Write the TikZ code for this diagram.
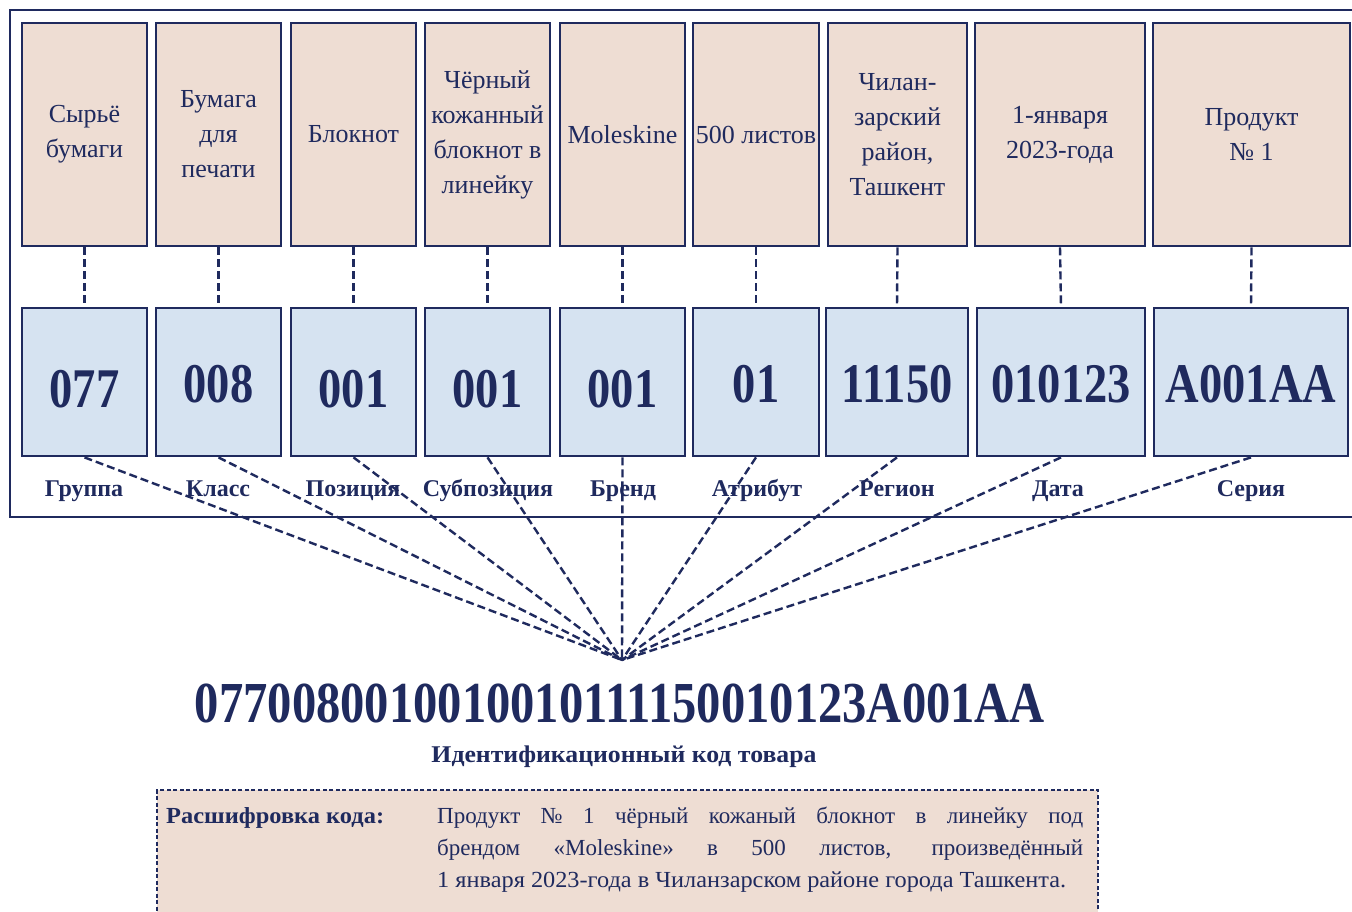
\documentclass[tikz,border=0pt]{standalone}
\usepackage{fontspec}
\setmainfont{Liberation Serif}
\definecolor{navy}{RGB}{31,42,94}
\definecolor{beige}{RGB}{238,221,211}
\definecolor{lightblue}{RGB}{214,227,241}
\newcommand\codetxt[1]{\scalebox{0.83}[1]{\fontsize{56}{56}\selectfont\bfseries #1}}
\begin{document}
\begin{tikzpicture}[x=1pt,y=-1pt,
  topbox/.style={draw=navy, line width=2.8pt, fill=beige, inner sep=0pt, minimum height=223pt,
     align=center, text=navy, font=\fontsize{26}{35}\selectfont},
  codebox/.style={draw=navy, line width=2.8pt, fill=lightblue, inner sep=0pt, minimum height=148pt,
     text=navy},
  lbl/.style={text=navy, inner sep=0pt, anchor=base, font=\fontsize{24}{26}\selectfont\bfseries},
  dashline/.style={draw=navy, line width=2.4pt, dash pattern=on 8pt off 4pt},
  txt/.style={text=navy, inner sep=0pt, font=\fontsize{23}{32}\selectfont}]
\clip (0,0) rectangle (1352,911);
\fill[white] (0,0) rectangle (1352,911);
% outer frame
\draw[navy, line width=2.8pt] (10,10) rectangle (1370,517);
% top boxes
\node[topbox, minimum width=125pt] (t1) at (84.5,134.5) {Сырьё\\бумаги};
\node[topbox, minimum width=125pt] (t2) at (218.5,134.5) {Бумага\\для\\печати};
\node[topbox, minimum width=125pt] (t3) at (353.5,134.5) {Блокнот};
\node[topbox, minimum width=125pt] (t4) at (487.5,134.5) {Чёрный\\кожанный\\блокнот в\\линейку};
\node[topbox, minimum width=125pt] (t5) at (622.5,134.5) {Moleskine};
\node[topbox, minimum width=126pt] (t6) at (756,134.5) {500 листов};
\node[topbox, minimum width=139pt] (t7) at (897.5,134.5) {Чилан-\\зарский\\район,\\Ташкент};
\node[topbox, minimum width=170pt] (t8) at (1060,134.5) {1-января\\2023-года};
\node[topbox, minimum width=197pt] (t9) at (1251.5,134.5) {Продукт\\№ 1};
% code boxes
\node[codebox, minimum width=125pt, text height=52pt] (b1) at (84.5,382) {\codetxt{077}};
\node[codebox, minimum width=125pt, text height=42pt] (b2) at (218.5,382) {\codetxt{008}};
\node[codebox, minimum width=125pt, text height=52pt] (b3) at (353.5,382) {\codetxt{001}};
\node[codebox, minimum width=125pt, text height=52pt] (b4) at (487.5,382) {\codetxt{001}};
\node[codebox, minimum width=125pt, text height=52pt] (b5) at (622.5,382) {\codetxt{001}};
\node[codebox, minimum width=126pt, text height=42pt] (b6) at (756,382) {\codetxt{01}};
\node[codebox, minimum width=142pt, text height=42pt] (b7) at (897,382) {\codetxt{11150}};
\node[codebox, minimum width=168pt, text height=42pt] (b8) at (1061,382) {\codetxt{010123}};
\node[codebox, minimum width=194pt, text height=42pt] (b9) at (1251,382) {\codetxt{A001AA}};
% labels
\node[lbl] (l1) at (84,496) {Группа};
\node[lbl] (l2) at (218,496) {Класс};
\node[lbl] (l3) at (353,496) {Позиция};
\node[lbl] (l4) at (488,496) {Субпозиция};
\node[lbl] (l5) at (623,496) {Бренд};
\node[lbl] (l6) at (757,496) {Атрибут};
\node[lbl] (l7) at (897,496) {Регион};
\node[lbl] (l8) at (1058,496) {Дата};
\node[lbl] (l9) at (1251,496) {Серия};
% vertical connectors
\foreach \i in {1,...,9}{\draw[dashline] (t\i.south) -- (b\i.north);}
% fan
\coordinate (hub) at (622,660);
\foreach \i in {1,...,9}{\draw[dashline] (b\i.south) -- (hub);}
% main code
\node[text=navy, inner sep=0pt] (code) at (620,703)
  {\resizebox{850pt}{\height}{\fontsize{58}{58}\selectfont\bfseries 0770080010010010111150010123A001AA}};
\node[text=navy, inner sep=0pt] (sub) at (624,757)
  {\resizebox{385pt}{\height}{\fontsize{24}{26}\selectfont\bfseries Идентификационный код товара}};
% decoding box
\node[draw=navy, fill=beige, line width=1.3pt, dash pattern=on 4pt off 2.5pt,
      minimum width=941pt, minimum height=140pt, inner sep=0pt] (dec) at (627.5,860) {};
\node[text=navy, inner sep=0pt, anchor=west] (dech) at (166,818)
  {\resizebox{218pt}{\height}{\fontsize{23}{26}\selectfont\bfseries Расшифровка кода:}};
\node[txt, anchor=west] (p1) at (437,818) {\makebox[646pt][s]{Продукт № 1 чёрный кожаный блокнот в линейку под}};
\node[txt, anchor=west] (p2) at (437,850) {\makebox[646pt][s]{брендом «Moleskine» в 500 листов, произведённый}};
\node[txt, anchor=west] (p3) at (437,882) {\resizebox{629pt}{\height}{1 января 2023-года в Чиланзарском районе города Ташкента.}};
\end{tikzpicture}
\end{document}
